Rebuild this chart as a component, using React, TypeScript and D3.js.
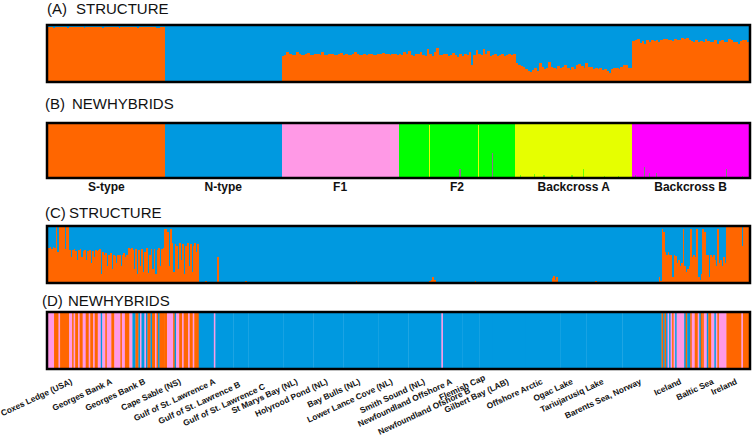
import React from "react";
import * as d3 from "d3";

// ---------- DATA ----------
const groupsAB = ["S-type", "N-type", "F1", "F2", "Backcross A", "Backcross B"];

// Panel A: STRUCTURE, % orange (S) ancestry per simulated individual
const structureA_S = [96,97,95,97,96,97,97,96,95,97,96,97,97,96,97,95,96,97,96,96,97,97,96,95,96,97,97,96,96,97,95,96,97,97,96,96,97,96,95,97,96,97,96,96,97,96,94,95,97,97];
const structureA_N = [2,1,2,1,1,2,1,1,2,2,1,1,2,1,1,1,2,1,1,2,2,1,1,2,1,1,1,2,2,1,1,1,2,1,2,1,1,2,1,1,2,2,1,1,1,2,1,1,2,1];
const structureA_F1 = [46,47,52,49,47,48,53,50,47,48,49,51,48,47,50,49,48,52,48,47,49,50,48,47,49,51,48,49,47,48,50,52,49,48,47,49,48,50,49,47,48,50,49,51,49,50,48,49,50,48];
const structureA_F2 = [50,47,52,49,55,48,46,50,49,53,47,45,58,49,46,52,60,48,47,50,49,45,48,51,47,44,50,46,49,48,52,30,48,56,50,47,58,49,55,46,48,50,45,47,49,46,48,50,47,49];
const structureA_BA = [33,30,28,26,22,20,18,21,24,20,33,27,22,25,35,26,24,23,28,25,26,29,24,21,27,23,30,31,28,24,33,26,27,23,25,22,24,21,23,19,16,22,24,25,23,26,29,29,24,25];
const structureA_BB = [72,73,75,68,72,66,74,71,73,72,74,70,73,75,76,74,73,72,75,74,73,78,76,77,74,72,70,73,71,72,70,76,72,71,70,73,66,72,74,71,70,76,73,71,70,66,72,74,73,71];

// Panel B: NEWHYBRIDS, assigned class per group (0 S,1 N,2 F1,3 F2,4 BxA,5 BxB)
const newhybridsB_class = [0, 1, 2, 3, 4, 5];
const newhybridsB_size = [50, 50, 50, 50, 50, 50];
// individuals with some probability of another class: [group, individual, class, probability]
const newhybridsB_other = [
  [3, 13, 4, 0.97], [3, 34, 4, 0.97], [3, 26, 5, 0.16], [3, 40, 5, 0.46],
  [4, 2, 3, 0.06], [4, 8, 3, 0.08], [4, 12, 3, 0.05], [4, 24, 3, 0.05], [4, 29, 3, 0.17], [4, 38, 3, 0.04], [4, 44, 3, 0.04],
  [5, 1, 3, 0.06], [5, 5, 3, 0.2], [5, 7, 3, 0.1], [5, 10, 3, 0.1], [5, 40, 3, 0.16], [5, 47, 3, 0.04],
];

const classColors = ["#ff6600", "#0099e0", "#ff99e6", "#00ff00", "#e6ff00", "#ff00ff"];

// Panels C/D: wild populations
const populations = [
  "Coxes Ledge (USA)", "Georges Bank A", "Georges Bank B", "Cape Sable (NS)",
  "Gulf of St. Lawrence A", "Gulf of St. Lawrence B", "Gulf of St. Lawrence C",
  "St Marys Bay (NL)", "Holyrood Pond (NL)", "Bay Bulls (NL)", "Lower Lance Cove (NL)",
  "Smith Sound (NL)", "Newfoundland Offshore A", "Newfoundland Ofshore B", "Flemish Cap",
  "Gilbert Bay (LAB)", "Offshore Arctic", "Ogac Lake", "Tariujarusiq Lake",
  "Barents Sea, Norway", "Iceland", "Baltic Sea", "Ireland",
];

// Panel C: STRUCTURE orange (S) ancestry per individual
const structureC = [
  [0.62,0.64,0.6,0.63,0.62,1,0.55,1,1,0.98,1,0.6,1,1,0.58,0.45,0.58,0.6,0.57,0.4,0.58,0.59,0.45,0.57,0.58,0.4,0.56,0.58,0.35,0.57,0.45,0.58,0.57],
  [0.58,0.6,0.15,0.55,0.5,0.52,0.3,0.5,0.52,0.25,0.5,0.48,0.35,0.5,0.5,0.3,0.5,0.52,0.45,0.5],
  [0.62,0.6,0.62,0.58,0.25,0.6,0.15,0.58,0.3,0.6,0.2,0.55,0.62,0.18,0.5,0.6,0.25,0.6,0.15,0.58,0.62,0.3,0.6,0.62],
  [0.95,0.95,0.9,0.3,0.95,0.7,0.2,0.68,0.65,0.25,0.7,0.4,0.68,0.15,0.65,0.7,0.3,0.68,0.2,0.65,0.7,0.55,0.68],
  [0,0,0,0,0.03,0,0,0,0,0,0,0,0.45,0,0,0,0,0,0,0,0,0,0],
  [0,0,0,0,0,0,0,0,0.03,0],
  [0,0,0,0,0,0,0,0,0,0,0,0,0,0,0,0,0,0,0,0,0,0,0],
  [0,0,0,0,0,0,0,0,0,0,0,0,0,0,0,0,0,0,0,0],
  [0,0,0,0,0,0,0,0,0,0,0,0,0,0,0,0,0,0,0,0],
  [0,0,0,0,0,0,0,0,0.03,0,0,0,0,0,0,0,0,0,0,0,0,0,0],
  [0,0,0,0,0,0,0,0,0,0,0,0,0,0,0,0,0,0,0,0],
  [0,0,0,0,0,0,0,0,0,0,0,0,0,0,0.03,0.05,0.1,0.06,0.02,0,0,0,0],
  [0,0,0,0,0,0,0,0,0,0,0,0,0],
  [0,0,0,0,0,0,0,0,0.03,0,0],
  [0,0,0,0,0,0,0,0,0],
  [0,0,0,0,0,0,0,0,0,0,0,0,0,0,0,0,0,0,0,0,0,0],
  [0,0,0,0,0,0,0,0,0,0,0,0,0,0,0,0,0,0.08,0.12,0.05,0.1,0,0],
  [0,0,0,0,0,0,0,0,0,0,0,0,0,0,0,0,0],
  [0,0,0,0,0,0,0.03,0,0,0,0,0,0,0,0,0,0,0,0,0,0,0,0,0],
  [0,0.02,0,0,0,0,0,0,0,0,0,0,0,0,0,0,0,0,0,0,0,0,0,0,0.1,0.04],
  [0.95,0.9,0.55,0.5,0.55,0.5,0.5,0.1,0.5,0.48,0.35,0.4,0.3,0.35,0.95,0.3,0.2,0.25,0.3,0.95,0.45,0.5,0.45,0.95,0.1,0.06,0.15],
  [0.95,0.9,0.5,0.5,0.1,0.5,0.45,0.5,0.4,0.3,0.95,0.35,0.4,0.3,0.45,0.35],
  [1,1,1,1,1,1,1,1,1,1,0.65,1,1,1,1],
];

// Panel D: NEWHYBRIDS class per individual (S, N, P=F1, G=F2, Y=BxA, M=BxB)
const newhybridsD = [
  "PPPPSSSPSSSSSSPPSPSSPSSPPSSPSSPSS",
  "PPNPPSPPPSSPPPPSPPSS",
  "SPPNNSSNPNNPNSSNSSPSNSSS",
  "SSPPPPSNPPSSPSSSPSSPSSS",
  "NNNNNNNNNNPNNNNNNNNNNNN",
  "NNNNNNNNNN",
  "NNNNNNNNNNNNNNNNNNNNNNN",
  "NNNNNNNNNNNNNNNNNNNN",
  "NNNNNNNNNNNNNNNNNNNN",
  "NNNNNNNNNNNNNNNNNNNNNNN",
  "NNNNNNNNNNNNNNNNNNNN",
  "NNNNNNNNNNNNNNNNNNNNNNP",
  "NNNNNNNNNNNNN",
  "NNNNNNNNNNN",
  "NNNNNNNNN",
  "NNNNNNNNNNNNNNNNNNNNNN",
  "NNNNNNNNNNNNNNNNNNNNNNN",
  "NNNNNNNNNNNNNNNNN",
  "NNNNNNNNNNNNNNNNNNNNNNNN",
  "NNNNNNNNNNNNNNNNNNNNNNNNNN",
  "SNSNPNPSPNPPPPPNSNNSPPSSPNS",
  "SPPNSSPPNPSPPPPP",
  "SSSSSSSSSSPSSSS",
];
const classCodes = "SNPGYM";

const titleLetters = ["(A)", "(B)", "(C)", "(D)"];
const titleNames = ["STRUCTURE", "NEWHYBRIDS", "STRUCTURE", "NEWHYBRIDS"];

// ---------- LAYOUT ----------
const X0 = 48, X1 = 749;
const panels = [
  { top: 25, bottom: 82, titleY: 14, titleX: 47, nameX: 76 },
  { top: 123, bottom: 178, titleY: 109, titleX: 45, nameX: 72 },
  { top: 226, bottom: 283, titleY: 218, titleX: 45, nameX: 69 },
  { top: 312, bottom: 369, titleY: 305.5, titleX: 42, nameX: 68 },
];
const labelDy: Record<number, number> = { 5: 3, 6: 5, 13: 9, 14: -4 };

export default function App() {
  const structureA = [structureA_S, structureA_N, structureA_F1, structureA_F2, structureA_BA, structureA_BB];
  const nAB = d3.sum(structureA, (g) => g.length);
  const xAB = d3.scaleLinear().domain([0, nAB]).range([X0, X1]);
  const offsetsAB = d3.cumsum([0, ...structureA.map((g) => g.length)]);

  const nCD = d3.sum(structureC, (g) => g.length);
  const xCD = d3.scaleLinear().domain([0, nCD]).range([X0, X1]);
  const offsetsCD = d3.cumsum([0, ...structureC.map((g) => g.length)]);

  const yA = d3.scaleLinear().domain([0, 100]).range([panels[0].bottom, panels[0].top]);
  const yB = d3.scaleLinear().domain([0, 1]).range([panels[1].bottom, panels[1].top]);
  const yC = d3.scaleLinear().domain([0, 1]).range([panels[2].bottom, panels[2].top]);

  // Panel A: blue background, orange bars from bottom
  const barsA: React.ReactNode[] = [];
  structureA.forEach((g, gi) => {
    g.forEach((v, i) => {
      const x = xAB(offsetsAB[gi] + i);
      const w = xAB(offsetsAB[gi] + i + 1) - x + 0.5;
      barsA.push(<rect key={`a${gi}-${i}`} x={x} y={yA(v)} width={w} height={yA(0) - yA(v)} fill={classColors[0]} />);
    });
  });

  const barsB: React.ReactNode[] = [];
  newhybridsB_class.forEach((c, gi) => {
    const x = xAB(offsetsAB[gi]);
    const x2 = xAB(offsetsAB[gi] + newhybridsB_size[gi]);
    barsB.push(<rect key={`b${gi}`} x={x} y={yB(1)} width={x2 - x + 0.5} height={yB(0) - yB(1)} fill={classColors[c]} />);
  });
  newhybridsB_other.forEach(([gi, i, c, p], k) => {
    const x = xAB(offsetsAB[gi] + i);
    barsB.push(
      <rect key={`bo${k}`} x={x} y={yB(p)} width={1.3} height={yB(0) - yB(p)} fill={classColors[c]} opacity={p > 0.9 ? 1 : 0.55} />
    );
  });

  const barsC: React.ReactNode[] = [];
  structureC.forEach((g, gi) => {
    g.forEach((v, i) => {
      if (v <= 0) return;
      const x = xCD(offsetsCD[gi] + i);
      const w = xCD(offsetsCD[gi] + i + 1) - x + 0.3;
      barsC.push(<rect key={`c${gi}-${i}`} x={x} y={yC(v)} width={w} height={yC(0) - yC(v)} fill={classColors[0]} />);
    });
  });

  // Panel D: merge runs of identical class into single rects
  const barsD: React.ReactNode[] = [];
  newhybridsD.forEach((s, gi) => {
    const xa = xCD(offsetsCD[gi]);
    const xb = xCD(offsetsCD[gi + 1]);
    const step = (xb - xa) / s.length;
    let start = 0;
    for (let i = 1; i <= s.length; i++) {
      if (i === s.length || s[i] !== s[start]) {
        barsD.push(
          <rect key={`d${gi}-${start}`} x={xa + start * step} y={panels[3].top} width={(i - start) * step + 0.3} height={panels[3].bottom - panels[3].top} fill={classColors[classCodes.indexOf(s[start])]} />
        );
        start = i;
      }
    }
  });

  const dividersAB = offsetsAB.slice(1, -1);
  const dividersCD = offsetsCD.slice(1, -1);

  return (
    <svg width={753} height={436} style={{ position: "absolute", left: 0, top: 0, background: "#fff" }} fontFamily="'Liberation Sans', Arial, sans-serif">
      {titleLetters.map((t, i) => (
        <g key={t}>
          <text x={panels[i].titleX} y={panels[i].titleY} fontSize={15} fill="#111">{t}</text>
          <text x={panels[i].nameX} y={panels[i].titleY} fontSize={15} fill="#111">{titleNames[i]}</text>
        </g>
      ))}
      <rect x={X0} y={panels[0].top} width={X1 - X0} height={panels[0].bottom - panels[0].top} fill={classColors[1]} />
      <g shapeRendering="crispEdges">{barsA}</g>
      <g shapeRendering="crispEdges">{barsB}</g>
      <rect x={X0} y={panels[2].top} width={X1 - X0} height={panels[2].bottom - panels[2].top} fill={classColors[1]} />
      <g shapeRendering="crispEdges">{barsC}</g>
      {barsD}
      {dividersAB.map((d) => (
        <g key={`dab${d}`}>
          <line x1={xAB(d)} x2={xAB(d)} y1={panels[0].top} y2={panels[0].bottom} stroke="#333" strokeWidth={0.9} />
          <line x1={xAB(d)} x2={xAB(d)} y1={panels[1].top} y2={panels[1].bottom} stroke="#444" strokeWidth={0.7} />
        </g>
      ))}
      {dividersCD.map((d) => (
        <g key={`dcd${d}`}>
          <line x1={xCD(d)} x2={xCD(d)} y1={panels[2].top} y2={panels[2].bottom} stroke="#222" strokeWidth={0.8} />
          <line x1={xCD(d)} x2={xCD(d)} y1={panels[3].top} y2={panels[3].bottom} stroke="#222" strokeWidth={0.8} />
        </g>
      ))}
      {panels.map((p, i) => (
        <rect key={`f${i}`} x={X0 - 1} y={p.top} width={X1 - X0 + 2} height={p.bottom - p.top} fill="none" stroke="#000" strokeWidth={2.5} />
      ))}
      {groupsAB.map((g, gi) => (
        <text key={g} x={(xAB(offsetsAB[gi]) + xAB(offsetsAB[gi + 1])) / 2} y={191} textAnchor="middle" fontSize={12} fontWeight="bold" fill="#111">{g}</text>
      ))}
      {populations.map((p, gi) => {
        const cx = (xCD(offsetsCD[gi]) + xCD(offsetsCD[gi + 1])) / 2;
        const y = 383.5 + (labelDy[gi] || 0);
        return (
          <text key={p} transform={`translate(${cx},${y}) rotate(-25)`} textAnchor="end" fontSize={8.4} fontWeight="bold" fill="#111">{p}</text>
        );
      })}
    </svg>
  );
}
